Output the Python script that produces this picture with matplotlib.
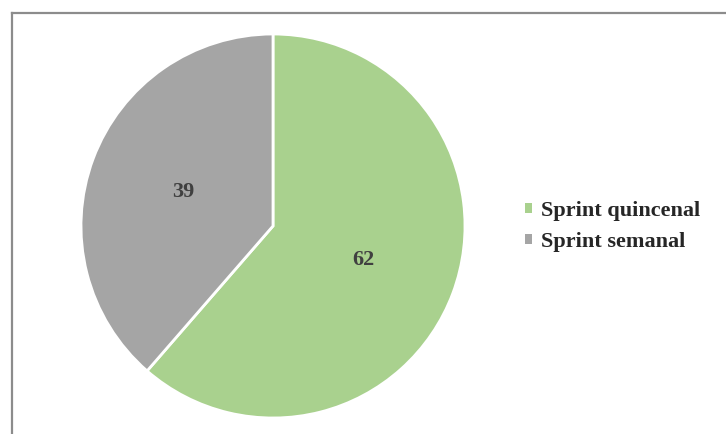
import matplotlib.pyplot as plt
from matplotlib.lines import Line2D

categories = ['Sprint quincenal', 'Sprint semanal']
values = [62, 39]
colors = ['#A9D18E', '#A5A5A5']

plt.rcParams['font.family'] = ['Liberation Serif', 'DejaVu Serif']

W, H = 726, 434
fig = plt.figure(figsize=(W / 100, H / 100), dpi=100)

# pie axes: centre (273, 226) px, radius 192 px
r = 192
ax = fig.add_axes([(273 - r) / W, (H - 226 - r) / H, 2 * r / W, 2 * r / H])
wedges, texts = ax.pie(values, labels=[str(v) for v in values], colors=colors,
                       startangle=90, counterclock=False, labeldistance=0.5,
                       wedgeprops=dict(edgecolor='white', linewidth=2),
                       textprops=dict(fontsize=16, fontweight='bold', color='#404040',
                                      ha='center', va='center'))
ax.set_xlim(-1, 1)
ax.set_ylim(-1, 1)
ax.set_aspect('equal')

# legend
leg = fig.legend(wedges, categories, loc='upper left',
                 bbox_to_anchor=(525 / W, 1 - 201 / H), frameon=False,
                 prop=dict(size=16, weight='bold'), labelcolor='#262626',
                 handlelength=0.3, handleheight=0.3, handletextpad=0.4,
                 labelspacing=0.5, borderaxespad=0, borderpad=0)
for h in leg.legend_handles:
    h.set_edgecolor('none')

# chart frame (only top and left visible in the crop)
frame_color = '#8c8c8c'
fig.add_artist(Line2D([11.5 / W, 1], [1 - 12.5 / H, 1 - 12.5 / H], color=frame_color, lw=1.6))
fig.add_artist(Line2D([11.5 / W, 11.5 / W], [0, 1 - 12.5 / H], color=frame_color, lw=1.6))

fig.savefig('out.png', dpi=100)
